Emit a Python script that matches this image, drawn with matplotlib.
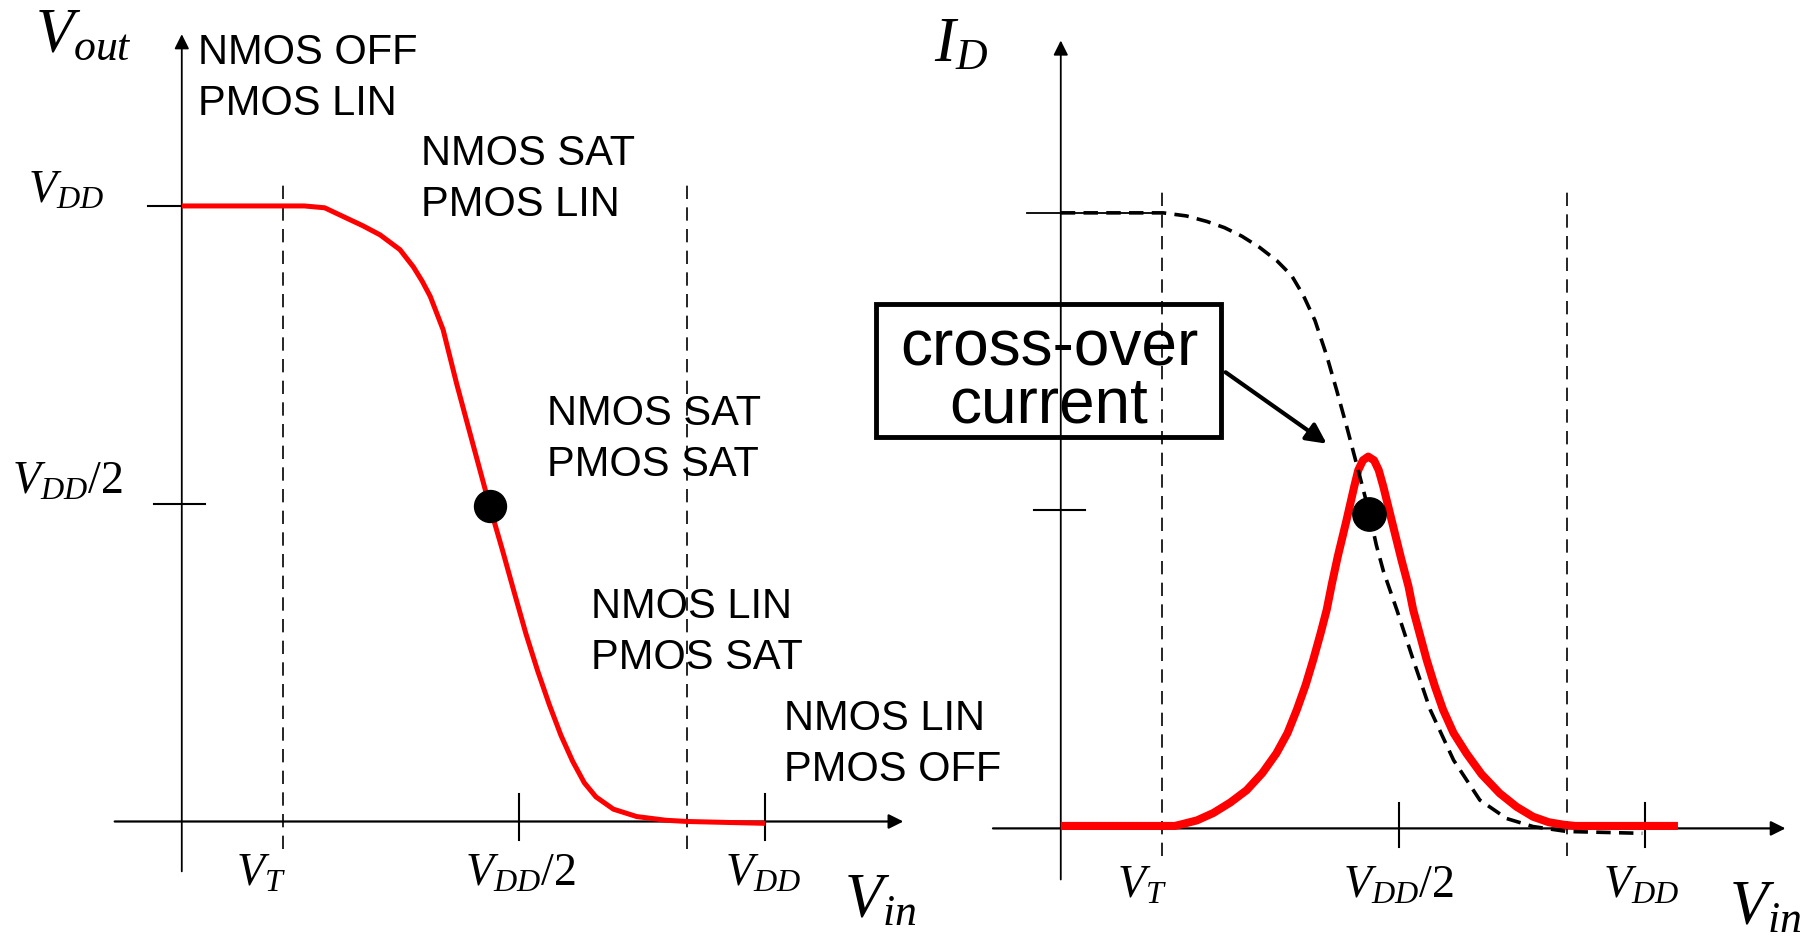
import matplotlib.pyplot as plt
from matplotlib.patches import Rectangle

# Units: Vin and Vout in fractions of VDD, ID in fractions of its maximum
VT = 0.173
VDD_HALF_TICK = 0.578
VDD_MINUS_VT = 0.866
VDD = 1.0

# Voltage transfer characteristic (left panel)
vin_vtc = [0.000, 0.210, 0.245, 0.283, 0.310, 0.340, 0.374, 0.397, 0.412,
           0.426, 0.448, 0.471, 0.490, 0.510, 0.528, 0.550, 0.570, 0.590,
           0.610, 0.630, 0.650, 0.670, 0.690, 0.710, 0.740, 0.780, 0.830,
           0.867, 1.000]
vout_vtc = [1.000, 1.000, 0.997, 0.980, 0.968, 0.953, 0.929, 0.901, 0.878,
            0.853, 0.799, 0.712, 0.645, 0.575, 0.512, 0.440, 0.372, 0.305,
            0.245, 0.190, 0.140, 0.098, 0.063, 0.040, 0.020, 0.008, 0.002,
            0.000, -0.003]
switch_point = (0.528, 0.512)

# Drain current (right panel): dashed reference curve and cross-over current
vin_id = [0.000, 0.175, 0.215, 0.250, 0.280, 0.310, 0.340, 0.370, 0.395,
          0.415, 0.435, 0.455, 0.472, 0.490, 0.510, 0.528, 0.540, 0.552,
          0.575, 0.603, 0.632, 0.672, 0.717, 0.763, 0.808, 0.866, 0.995]
id_dashed = [1.000, 1.000, 0.995, 0.986, 0.976, 0.962, 0.944, 0.922, 0.898,
             0.866, 0.825, 0.768, 0.712, 0.650, 0.578, 0.512, 0.460, 0.418,
             0.355, 0.274, 0.193, 0.111, 0.046, 0.016, 0.003, -0.005, -0.008]
vin_cross = [0.000, 0.195, 0.204, 0.233, 0.261, 0.290, 0.318, 0.345, 0.369,
             0.388, 0.404, 0.419, 0.432, 0.444, 0.455, 0.464, 0.474, 0.489,
             0.502, 0.509, 0.517, 0.526, 0.536, 0.544, 0.552, 0.566, 0.583,
             0.595, 0.603, 0.626, 0.640, 0.654, 0.672, 0.694, 0.720, 0.751,
             0.780, 0.808, 0.835, 0.860, 0.880, 1.056]
i_cross = [0.004, 0.004, 0.006, 0.013, 0.025, 0.042, 0.062, 0.090, 0.122,
           0.155, 0.193, 0.233, 0.274, 0.315, 0.355, 0.398, 0.442, 0.501,
           0.555, 0.582, 0.598, 0.604, 0.598, 0.582, 0.555, 0.501, 0.436,
           0.393, 0.355, 0.274, 0.231, 0.193, 0.155, 0.122, 0.088, 0.057,
           0.035, 0.019, 0.010, 0.006, 0.004, 0.004]
id_point = (0.528, 0.511)

# Operating regions: (left x, baseline y, line 1, line 2)
regions = [
    (0.027, 1.231, "NMOS OFF", "PMOS LIN"),
    (0.410, 1.066, "NMOS SAT", "PMOS LIN"),
    (0.626, 0.644, "NMOS SAT", "PMOS SAT"),
    (0.702, 0.331, "NMOS LIN", "PMOS SAT"),
    (1.032, 0.148, "NMOS LIN", "PMOS OFF"),
]
LINE_STEP = 0.083

plt.rcParams["mathtext.fontset"] = "custom"
plt.rcParams["mathtext.rm"] = "Liberation Serif"
plt.rcParams["mathtext.it"] = "Liberation Serif:italic"

RED = "#ff0000"
SANS = "Liberation Sans"


def panel(fig, origin, unit_point):
    # origin and the (VDD, 1) point given as figure fractions
    ax = fig.add_axes([0, 0, 1, 1])
    ox, oy = origin
    sx, sy = unit_point[0] - ox, unit_point[1] - oy
    ax.set_xlim(-ox / sx, (1 - ox) / sx)
    ax.set_ylim(-oy / sy, (1 - oy) / sy)
    ax.axis("off")
    ax.patch.set_alpha(0)
    return ax


def draw_axes(ax, x_end, y_end, x_start, y_start):
    arrow = dict(arrowstyle="-|>", color="black", lw=1.6, mutation_scale=22,
                 shrinkA=0, shrinkB=0)
    ax.annotate("", xy=(x_end, 0), xytext=(x_start, 0), arrowprops=arrow)
    arrow_y = dict(arrow, lw=1.3)
    ax.annotate("", xy=(0, y_end), xytext=(0, y_start), arrowprops=arrow_y)


def vline_dashed(ax, x):
    ax.plot([x, x], [-0.045, 1.036], color="black", lw=1.2,
            dashes=(8, 5), zorder=1)


fig = plt.figure(figsize=(18.04, 9.40), dpi=100)

# ---------------- left panel: Vout vs Vin ----------------
ax = panel(fig, (158 / 1568, 1 - 714 / 817), (665 / 1568, 1 - 179 / 817))
draw_axes(ax, 1.237, 1.279, -0.115, -0.081)
ax.plot([-0.058, 0.027], [1, 1], color="black", lw=1.5)
ax.plot([-0.047, 0.040], [0.516, 0.516], color="black", lw=1.5)
for xt in (VDD_HALF_TICK, VDD):
    ax.plot([xt, xt], [0.044, -0.030], color="black", lw=1.5)
vline_dashed(ax, VT)
vline_dashed(ax, VDD_MINUS_VT)
ax.plot(vin_vtc, vout_vtc, color=RED, lw=3.6, solid_capstyle="butt",
        solid_joinstyle="round", zorder=3)
ax.plot(*switch_point, "o", color="black", ms=23, zorder=4)

for x, y, l1, l2 in regions:
    ax.text(x, y, l1, fontsize=30, family=SANS, va="baseline", ha="left")
    ax.text(x, y - LINE_STEP, l2, fontsize=30, family=SANS, va="baseline",
            ha="left")

ax.text(-0.169, 1.249, r"$V_{out}$", fontsize=45, ha="center", va="baseline")
ax.text(-0.198, 1.005, r"$V_{DD}$", fontsize=33, ha="center", va="baseline")
ax.text(-0.196, 0.532, r"$V_{DD}/2$", fontsize=33, ha="center",
        va="baseline")
ax.text(0.135, -0.105, r"$V_T$", fontsize=33, ha="center", va="baseline")
ax.text(0.580, -0.105, r"$V_{DD}/2$", fontsize=33, ha="center",
        va="baseline")
ax.text(0.997, -0.105, r"$V_{DD}$", fontsize=33, ha="center", va="baseline")
ax.text(1.197, -0.155, r"$V_{in}$", fontsize=45, ha="center", va="baseline")

# ---------------- right panel: ID vs Vin ----------------
ax = panel(fig, (922 / 1568, 1 - 720 / 817), (1430 / 1568, 1 - 185 / 817))
draw_axes(ax, 1.240, 1.280, -0.116, -0.083)
ax.plot([-0.057, 0.175], [1, 1], color="black", lw=1.3)
ax.plot([-0.046, 0.042], [0.518, 0.518], color="black", lw=1.5)
for xt in (VDD_HALF_TICK, VDD):
    ax.plot([xt, xt], [0.042, -0.031], color="black", lw=1.5)
vline_dashed(ax, VT)
vline_dashed(ax, VDD_MINUS_VT)
ax.plot(vin_cross, i_cross, color=RED, lw=5.8, solid_capstyle="butt",
        solid_joinstyle="round", zorder=3)
ax.plot(vin_id, id_dashed, color="black", lw=2.6, dashes=(4, 2.3),
        zorder=3.5)
ax.plot(*id_point, "o", color="black", ms=24, zorder=4)

ax.add_patch(Rectangle((-0.316, 0.636), 0.591, 0.216, fill=False,
                       edgecolor="black", lw=3.5, zorder=5))
ax.text(-0.020, 0.752, "cross-over", fontsize=46, family=SANS, ha="center",
        va="baseline", zorder=6)
ax.text(-0.020, 0.660, "current", fontsize=46, family=SANS, ha="center",
        va="baseline", zorder=6)
ax.annotate("", xy=(0.455, 0.625), xytext=(0.282, 0.741),
            arrowprops=dict(arrowstyle="-|>", color="black", lw=3,
                            mutation_scale=30, shrinkA=0, shrinkB=0))

ax.text(-0.171, 1.247, r"$I_D$", fontsize=45, ha="center", va="baseline")
ax.text(0.139, -0.112, r"$V_T$", fontsize=33, ha="center", va="baseline")
ax.text(0.577, -0.112, r"$V_{DD}/2$", fontsize=33, ha="center",
        va="baseline")
ax.text(0.993, -0.112, r"$V_{DD}$", fontsize=33, ha="center", va="baseline")
ax.text(1.205, -0.155, r"$V_{in}$", fontsize=45, ha="center", va="baseline")

plt.savefig("out.png", dpi=100)
plt.close()
